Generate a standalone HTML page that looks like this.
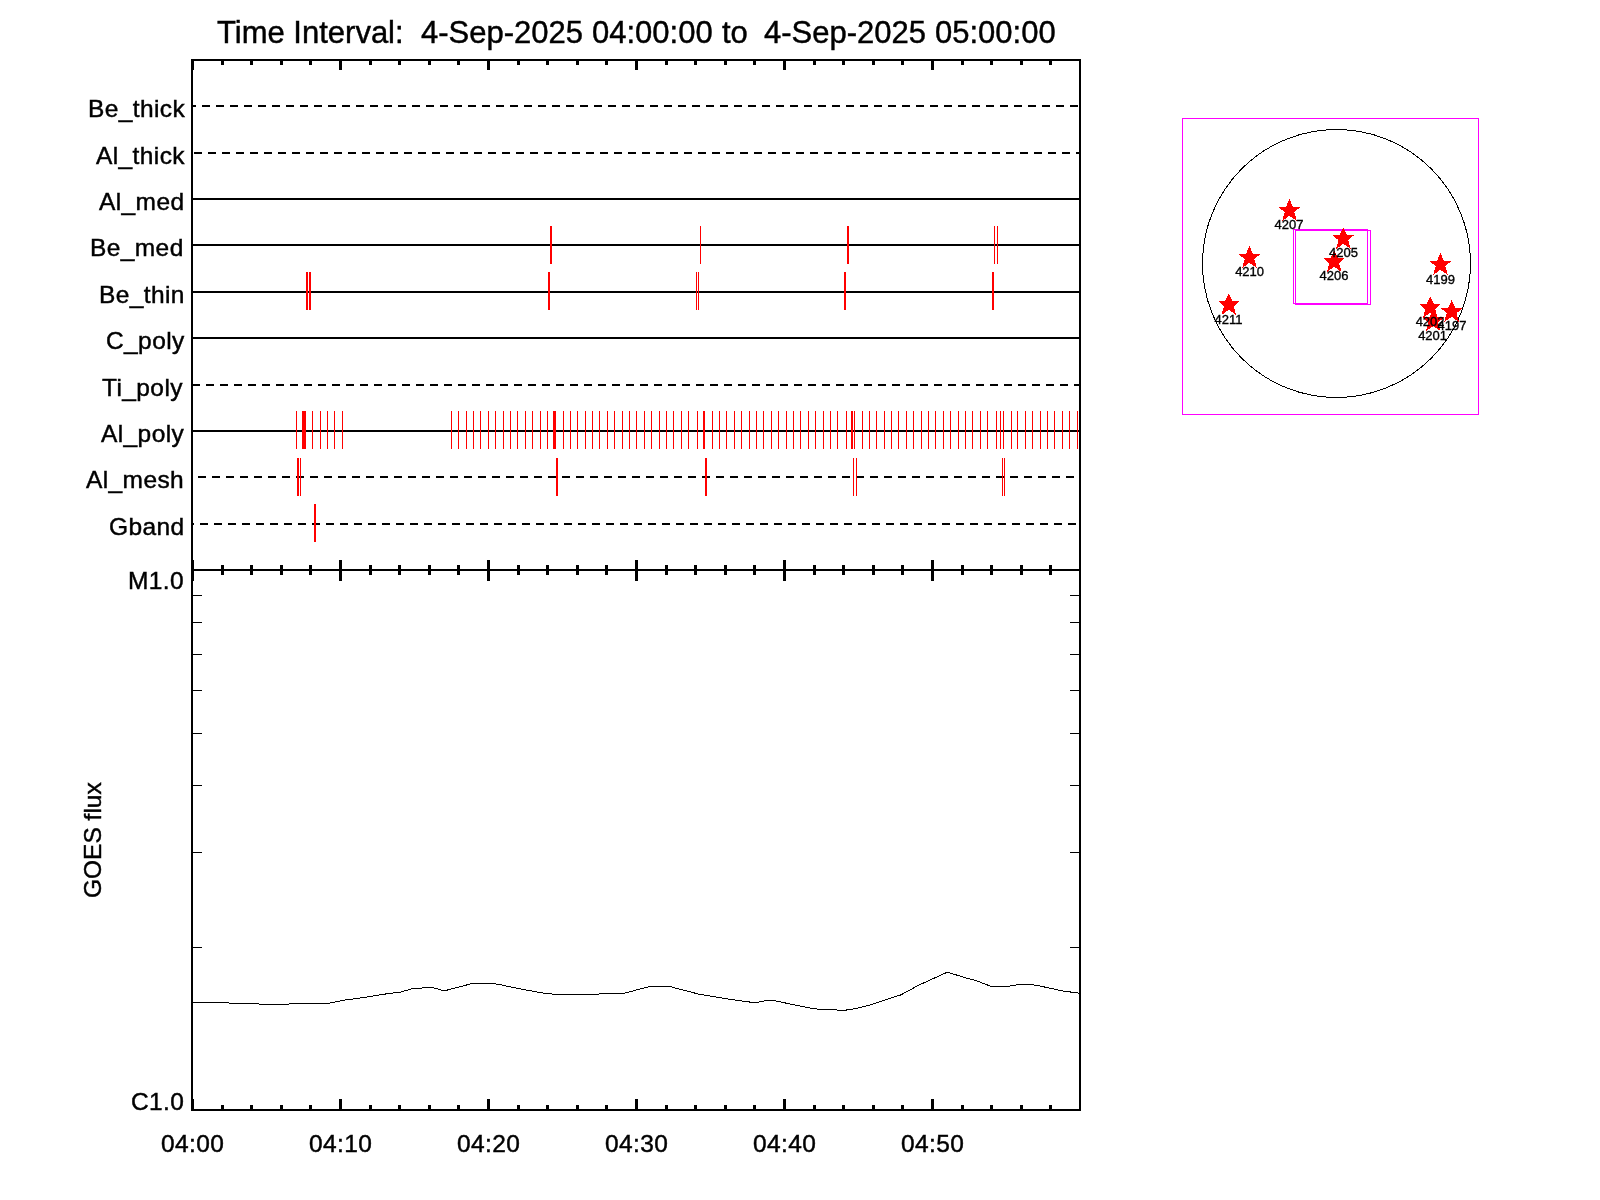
<!DOCTYPE html>
<html><head><meta charset="utf-8"><title>plot</title>
<style>
html,body{margin:0;padding:0;background:#fff;width:1600px;height:1200px;overflow:hidden}
svg{display:block}
text{font-family:"Liberation Sans",sans-serif;fill:#000;stroke:#000;stroke-width:0.45px}
.tx{will-change:transform}
</style></head><body>
<svg width="1600" height="1200" viewBox="0 0 1600 1200">
<rect x="0" y="0" width="1600" height="1200" fill="#fff"/>
<g shape-rendering="crispEdges">
<rect x="191" y="59" width="890" height="2" fill="#000"/>
<rect x="191" y="569" width="890" height="2" fill="#000"/>
<rect x="191" y="1109" width="890" height="2" fill="#000"/>
<rect x="191" y="59" width="2" height="1052" fill="#000"/>
<rect x="1079" y="59" width="2" height="1052" fill="#000"/>
<rect x="191" y="61" width="3" height="9" fill="#000"/>
<rect x="191" y="560" width="3" height="21" fill="#000"/>
<rect x="191" y="1099" width="3" height="10" fill="#000"/>
<rect x="221" y="61" width="3" height="4" fill="#000"/>
<rect x="221" y="565" width="3" height="10" fill="#000"/>
<rect x="221" y="1105" width="3" height="4" fill="#000"/>
<rect x="250" y="61" width="3" height="4" fill="#000"/>
<rect x="250" y="565" width="3" height="10" fill="#000"/>
<rect x="250" y="1105" width="3" height="4" fill="#000"/>
<rect x="280" y="61" width="3" height="4" fill="#000"/>
<rect x="280" y="565" width="3" height="10" fill="#000"/>
<rect x="280" y="1105" width="3" height="4" fill="#000"/>
<rect x="309" y="61" width="3" height="4" fill="#000"/>
<rect x="309" y="565" width="3" height="10" fill="#000"/>
<rect x="309" y="1105" width="3" height="4" fill="#000"/>
<rect x="339" y="61" width="3" height="9" fill="#000"/>
<rect x="339" y="560" width="3" height="21" fill="#000"/>
<rect x="339" y="1099" width="3" height="10" fill="#000"/>
<rect x="369" y="61" width="3" height="4" fill="#000"/>
<rect x="369" y="565" width="3" height="10" fill="#000"/>
<rect x="369" y="1105" width="3" height="4" fill="#000"/>
<rect x="398" y="61" width="3" height="4" fill="#000"/>
<rect x="398" y="565" width="3" height="10" fill="#000"/>
<rect x="398" y="1105" width="3" height="4" fill="#000"/>
<rect x="428" y="61" width="3" height="4" fill="#000"/>
<rect x="428" y="565" width="3" height="10" fill="#000"/>
<rect x="428" y="1105" width="3" height="4" fill="#000"/>
<rect x="457" y="61" width="3" height="4" fill="#000"/>
<rect x="457" y="565" width="3" height="10" fill="#000"/>
<rect x="457" y="1105" width="3" height="4" fill="#000"/>
<rect x="487" y="61" width="3" height="9" fill="#000"/>
<rect x="487" y="560" width="3" height="21" fill="#000"/>
<rect x="487" y="1099" width="3" height="10" fill="#000"/>
<rect x="517" y="61" width="3" height="4" fill="#000"/>
<rect x="517" y="565" width="3" height="10" fill="#000"/>
<rect x="517" y="1105" width="3" height="4" fill="#000"/>
<rect x="546" y="61" width="3" height="4" fill="#000"/>
<rect x="546" y="565" width="3" height="10" fill="#000"/>
<rect x="546" y="1105" width="3" height="4" fill="#000"/>
<rect x="576" y="61" width="3" height="4" fill="#000"/>
<rect x="576" y="565" width="3" height="10" fill="#000"/>
<rect x="576" y="1105" width="3" height="4" fill="#000"/>
<rect x="605" y="61" width="3" height="4" fill="#000"/>
<rect x="605" y="565" width="3" height="10" fill="#000"/>
<rect x="605" y="1105" width="3" height="4" fill="#000"/>
<rect x="635" y="61" width="3" height="9" fill="#000"/>
<rect x="635" y="560" width="3" height="21" fill="#000"/>
<rect x="635" y="1099" width="3" height="10" fill="#000"/>
<rect x="665" y="61" width="3" height="4" fill="#000"/>
<rect x="665" y="565" width="3" height="10" fill="#000"/>
<rect x="665" y="1105" width="3" height="4" fill="#000"/>
<rect x="694" y="61" width="3" height="4" fill="#000"/>
<rect x="694" y="565" width="3" height="10" fill="#000"/>
<rect x="694" y="1105" width="3" height="4" fill="#000"/>
<rect x="724" y="61" width="3" height="4" fill="#000"/>
<rect x="724" y="565" width="3" height="10" fill="#000"/>
<rect x="724" y="1105" width="3" height="4" fill="#000"/>
<rect x="753" y="61" width="3" height="4" fill="#000"/>
<rect x="753" y="565" width="3" height="10" fill="#000"/>
<rect x="753" y="1105" width="3" height="4" fill="#000"/>
<rect x="783" y="61" width="3" height="9" fill="#000"/>
<rect x="783" y="560" width="3" height="21" fill="#000"/>
<rect x="783" y="1099" width="3" height="10" fill="#000"/>
<rect x="813" y="61" width="3" height="4" fill="#000"/>
<rect x="813" y="565" width="3" height="10" fill="#000"/>
<rect x="813" y="1105" width="3" height="4" fill="#000"/>
<rect x="842" y="61" width="3" height="4" fill="#000"/>
<rect x="842" y="565" width="3" height="10" fill="#000"/>
<rect x="842" y="1105" width="3" height="4" fill="#000"/>
<rect x="872" y="61" width="3" height="4" fill="#000"/>
<rect x="872" y="565" width="3" height="10" fill="#000"/>
<rect x="872" y="1105" width="3" height="4" fill="#000"/>
<rect x="901" y="61" width="3" height="4" fill="#000"/>
<rect x="901" y="565" width="3" height="10" fill="#000"/>
<rect x="901" y="1105" width="3" height="4" fill="#000"/>
<rect x="931" y="61" width="3" height="9" fill="#000"/>
<rect x="931" y="560" width="3" height="21" fill="#000"/>
<rect x="931" y="1099" width="3" height="10" fill="#000"/>
<rect x="961" y="61" width="3" height="4" fill="#000"/>
<rect x="961" y="565" width="3" height="10" fill="#000"/>
<rect x="961" y="1105" width="3" height="4" fill="#000"/>
<rect x="990" y="61" width="3" height="4" fill="#000"/>
<rect x="990" y="565" width="3" height="10" fill="#000"/>
<rect x="990" y="1105" width="3" height="4" fill="#000"/>
<rect x="1020" y="61" width="3" height="4" fill="#000"/>
<rect x="1020" y="565" width="3" height="10" fill="#000"/>
<rect x="1020" y="1105" width="3" height="4" fill="#000"/>
<rect x="1049" y="61" width="3" height="4" fill="#000"/>
<rect x="1049" y="565" width="3" height="10" fill="#000"/>
<rect x="1049" y="1105" width="3" height="4" fill="#000"/>
<rect x="193" y="105" width="3" height="2" fill="#000"/>
<rect x="202" y="105" width="8" height="2" fill="#000"/>
<rect x="216" y="105" width="8" height="2" fill="#000"/>
<rect x="230" y="105" width="8" height="2" fill="#000"/>
<rect x="244" y="105" width="8" height="2" fill="#000"/>
<rect x="258" y="105" width="8" height="2" fill="#000"/>
<rect x="272" y="105" width="8" height="2" fill="#000"/>
<rect x="286" y="105" width="8" height="2" fill="#000"/>
<rect x="300" y="105" width="8" height="2" fill="#000"/>
<rect x="314" y="105" width="8" height="2" fill="#000"/>
<rect x="328" y="105" width="8" height="2" fill="#000"/>
<rect x="342" y="105" width="8" height="2" fill="#000"/>
<rect x="356" y="105" width="8" height="2" fill="#000"/>
<rect x="370" y="105" width="8" height="2" fill="#000"/>
<rect x="384" y="105" width="8" height="2" fill="#000"/>
<rect x="398" y="105" width="8" height="2" fill="#000"/>
<rect x="412" y="105" width="8" height="2" fill="#000"/>
<rect x="426" y="105" width="8" height="2" fill="#000"/>
<rect x="440" y="105" width="8" height="2" fill="#000"/>
<rect x="454" y="105" width="8" height="2" fill="#000"/>
<rect x="468" y="105" width="8" height="2" fill="#000"/>
<rect x="482" y="105" width="8" height="2" fill="#000"/>
<rect x="496" y="105" width="8" height="2" fill="#000"/>
<rect x="510" y="105" width="8" height="2" fill="#000"/>
<rect x="524" y="105" width="8" height="2" fill="#000"/>
<rect x="538" y="105" width="8" height="2" fill="#000"/>
<rect x="552" y="105" width="8" height="2" fill="#000"/>
<rect x="566" y="105" width="8" height="2" fill="#000"/>
<rect x="580" y="105" width="8" height="2" fill="#000"/>
<rect x="594" y="105" width="8" height="2" fill="#000"/>
<rect x="608" y="105" width="8" height="2" fill="#000"/>
<rect x="622" y="105" width="8" height="2" fill="#000"/>
<rect x="636" y="105" width="8" height="2" fill="#000"/>
<rect x="650" y="105" width="8" height="2" fill="#000"/>
<rect x="664" y="105" width="8" height="2" fill="#000"/>
<rect x="678" y="105" width="8" height="2" fill="#000"/>
<rect x="692" y="105" width="8" height="2" fill="#000"/>
<rect x="706" y="105" width="8" height="2" fill="#000"/>
<rect x="720" y="105" width="8" height="2" fill="#000"/>
<rect x="734" y="105" width="8" height="2" fill="#000"/>
<rect x="748" y="105" width="8" height="2" fill="#000"/>
<rect x="762" y="105" width="8" height="2" fill="#000"/>
<rect x="776" y="105" width="8" height="2" fill="#000"/>
<rect x="790" y="105" width="8" height="2" fill="#000"/>
<rect x="804" y="105" width="8" height="2" fill="#000"/>
<rect x="818" y="105" width="8" height="2" fill="#000"/>
<rect x="832" y="105" width="8" height="2" fill="#000"/>
<rect x="846" y="105" width="8" height="2" fill="#000"/>
<rect x="860" y="105" width="8" height="2" fill="#000"/>
<rect x="874" y="105" width="8" height="2" fill="#000"/>
<rect x="888" y="105" width="8" height="2" fill="#000"/>
<rect x="902" y="105" width="8" height="2" fill="#000"/>
<rect x="916" y="105" width="8" height="2" fill="#000"/>
<rect x="930" y="105" width="8" height="2" fill="#000"/>
<rect x="944" y="105" width="8" height="2" fill="#000"/>
<rect x="958" y="105" width="8" height="2" fill="#000"/>
<rect x="972" y="105" width="8" height="2" fill="#000"/>
<rect x="986" y="105" width="8" height="2" fill="#000"/>
<rect x="1000" y="105" width="8" height="2" fill="#000"/>
<rect x="1014" y="105" width="8" height="2" fill="#000"/>
<rect x="1028" y="105" width="8" height="2" fill="#000"/>
<rect x="1042" y="105" width="8" height="2" fill="#000"/>
<rect x="1056" y="105" width="8" height="2" fill="#000"/>
<rect x="1070" y="105" width="8" height="2" fill="#000"/>
<rect x="194" y="152" width="8" height="2" fill="#000"/>
<rect x="208" y="152" width="8" height="2" fill="#000"/>
<rect x="222" y="152" width="8" height="2" fill="#000"/>
<rect x="236" y="152" width="8" height="2" fill="#000"/>
<rect x="250" y="152" width="8" height="2" fill="#000"/>
<rect x="264" y="152" width="8" height="2" fill="#000"/>
<rect x="278" y="152" width="8" height="2" fill="#000"/>
<rect x="292" y="152" width="8" height="2" fill="#000"/>
<rect x="306" y="152" width="8" height="2" fill="#000"/>
<rect x="320" y="152" width="8" height="2" fill="#000"/>
<rect x="334" y="152" width="8" height="2" fill="#000"/>
<rect x="348" y="152" width="8" height="2" fill="#000"/>
<rect x="362" y="152" width="8" height="2" fill="#000"/>
<rect x="376" y="152" width="8" height="2" fill="#000"/>
<rect x="390" y="152" width="8" height="2" fill="#000"/>
<rect x="404" y="152" width="8" height="2" fill="#000"/>
<rect x="418" y="152" width="8" height="2" fill="#000"/>
<rect x="432" y="152" width="8" height="2" fill="#000"/>
<rect x="446" y="152" width="8" height="2" fill="#000"/>
<rect x="460" y="152" width="8" height="2" fill="#000"/>
<rect x="474" y="152" width="8" height="2" fill="#000"/>
<rect x="488" y="152" width="8" height="2" fill="#000"/>
<rect x="502" y="152" width="8" height="2" fill="#000"/>
<rect x="516" y="152" width="8" height="2" fill="#000"/>
<rect x="530" y="152" width="8" height="2" fill="#000"/>
<rect x="544" y="152" width="8" height="2" fill="#000"/>
<rect x="558" y="152" width="8" height="2" fill="#000"/>
<rect x="572" y="152" width="8" height="2" fill="#000"/>
<rect x="586" y="152" width="8" height="2" fill="#000"/>
<rect x="600" y="152" width="8" height="2" fill="#000"/>
<rect x="614" y="152" width="8" height="2" fill="#000"/>
<rect x="628" y="152" width="8" height="2" fill="#000"/>
<rect x="642" y="152" width="8" height="2" fill="#000"/>
<rect x="656" y="152" width="8" height="2" fill="#000"/>
<rect x="670" y="152" width="8" height="2" fill="#000"/>
<rect x="684" y="152" width="8" height="2" fill="#000"/>
<rect x="698" y="152" width="8" height="2" fill="#000"/>
<rect x="712" y="152" width="8" height="2" fill="#000"/>
<rect x="726" y="152" width="8" height="2" fill="#000"/>
<rect x="740" y="152" width="8" height="2" fill="#000"/>
<rect x="754" y="152" width="8" height="2" fill="#000"/>
<rect x="768" y="152" width="8" height="2" fill="#000"/>
<rect x="782" y="152" width="8" height="2" fill="#000"/>
<rect x="796" y="152" width="8" height="2" fill="#000"/>
<rect x="810" y="152" width="8" height="2" fill="#000"/>
<rect x="824" y="152" width="8" height="2" fill="#000"/>
<rect x="838" y="152" width="8" height="2" fill="#000"/>
<rect x="852" y="152" width="8" height="2" fill="#000"/>
<rect x="866" y="152" width="8" height="2" fill="#000"/>
<rect x="880" y="152" width="8" height="2" fill="#000"/>
<rect x="894" y="152" width="8" height="2" fill="#000"/>
<rect x="908" y="152" width="8" height="2" fill="#000"/>
<rect x="922" y="152" width="8" height="2" fill="#000"/>
<rect x="936" y="152" width="8" height="2" fill="#000"/>
<rect x="950" y="152" width="8" height="2" fill="#000"/>
<rect x="964" y="152" width="8" height="2" fill="#000"/>
<rect x="978" y="152" width="8" height="2" fill="#000"/>
<rect x="992" y="152" width="8" height="2" fill="#000"/>
<rect x="1006" y="152" width="8" height="2" fill="#000"/>
<rect x="1020" y="152" width="8" height="2" fill="#000"/>
<rect x="1034" y="152" width="8" height="2" fill="#000"/>
<rect x="1048" y="152" width="8" height="2" fill="#000"/>
<rect x="1062" y="152" width="8" height="2" fill="#000"/>
<rect x="1076" y="152" width="3" height="2" fill="#000"/>
<rect x="193" y="198" width="886" height="2" fill="#000"/>
<rect x="193" y="244" width="886" height="2" fill="#000"/>
<rect x="193" y="291" width="886" height="2" fill="#000"/>
<rect x="193" y="337" width="886" height="2" fill="#000"/>
<rect x="193" y="384" width="7" height="2" fill="#000"/>
<rect x="206" y="384" width="8" height="2" fill="#000"/>
<rect x="220" y="384" width="8" height="2" fill="#000"/>
<rect x="234" y="384" width="8" height="2" fill="#000"/>
<rect x="248" y="384" width="8" height="2" fill="#000"/>
<rect x="262" y="384" width="8" height="2" fill="#000"/>
<rect x="276" y="384" width="8" height="2" fill="#000"/>
<rect x="290" y="384" width="8" height="2" fill="#000"/>
<rect x="304" y="384" width="8" height="2" fill="#000"/>
<rect x="318" y="384" width="8" height="2" fill="#000"/>
<rect x="332" y="384" width="8" height="2" fill="#000"/>
<rect x="346" y="384" width="8" height="2" fill="#000"/>
<rect x="360" y="384" width="8" height="2" fill="#000"/>
<rect x="374" y="384" width="8" height="2" fill="#000"/>
<rect x="388" y="384" width="8" height="2" fill="#000"/>
<rect x="402" y="384" width="8" height="2" fill="#000"/>
<rect x="416" y="384" width="8" height="2" fill="#000"/>
<rect x="430" y="384" width="8" height="2" fill="#000"/>
<rect x="444" y="384" width="8" height="2" fill="#000"/>
<rect x="458" y="384" width="8" height="2" fill="#000"/>
<rect x="472" y="384" width="8" height="2" fill="#000"/>
<rect x="486" y="384" width="8" height="2" fill="#000"/>
<rect x="500" y="384" width="8" height="2" fill="#000"/>
<rect x="514" y="384" width="8" height="2" fill="#000"/>
<rect x="528" y="384" width="8" height="2" fill="#000"/>
<rect x="542" y="384" width="8" height="2" fill="#000"/>
<rect x="556" y="384" width="8" height="2" fill="#000"/>
<rect x="570" y="384" width="8" height="2" fill="#000"/>
<rect x="584" y="384" width="8" height="2" fill="#000"/>
<rect x="598" y="384" width="8" height="2" fill="#000"/>
<rect x="612" y="384" width="8" height="2" fill="#000"/>
<rect x="626" y="384" width="8" height="2" fill="#000"/>
<rect x="640" y="384" width="8" height="2" fill="#000"/>
<rect x="654" y="384" width="8" height="2" fill="#000"/>
<rect x="668" y="384" width="8" height="2" fill="#000"/>
<rect x="682" y="384" width="8" height="2" fill="#000"/>
<rect x="696" y="384" width="8" height="2" fill="#000"/>
<rect x="710" y="384" width="8" height="2" fill="#000"/>
<rect x="724" y="384" width="8" height="2" fill="#000"/>
<rect x="738" y="384" width="8" height="2" fill="#000"/>
<rect x="752" y="384" width="8" height="2" fill="#000"/>
<rect x="766" y="384" width="8" height="2" fill="#000"/>
<rect x="780" y="384" width="8" height="2" fill="#000"/>
<rect x="794" y="384" width="8" height="2" fill="#000"/>
<rect x="808" y="384" width="8" height="2" fill="#000"/>
<rect x="822" y="384" width="8" height="2" fill="#000"/>
<rect x="836" y="384" width="8" height="2" fill="#000"/>
<rect x="850" y="384" width="8" height="2" fill="#000"/>
<rect x="864" y="384" width="8" height="2" fill="#000"/>
<rect x="878" y="384" width="8" height="2" fill="#000"/>
<rect x="892" y="384" width="8" height="2" fill="#000"/>
<rect x="906" y="384" width="8" height="2" fill="#000"/>
<rect x="920" y="384" width="8" height="2" fill="#000"/>
<rect x="934" y="384" width="8" height="2" fill="#000"/>
<rect x="948" y="384" width="8" height="2" fill="#000"/>
<rect x="962" y="384" width="8" height="2" fill="#000"/>
<rect x="976" y="384" width="8" height="2" fill="#000"/>
<rect x="990" y="384" width="8" height="2" fill="#000"/>
<rect x="1004" y="384" width="8" height="2" fill="#000"/>
<rect x="1018" y="384" width="8" height="2" fill="#000"/>
<rect x="1032" y="384" width="8" height="2" fill="#000"/>
<rect x="1046" y="384" width="8" height="2" fill="#000"/>
<rect x="1060" y="384" width="8" height="2" fill="#000"/>
<rect x="1074" y="384" width="5" height="2" fill="#000"/>
<rect x="193" y="430" width="886" height="2" fill="#000"/>
<rect x="198" y="476" width="8" height="2" fill="#000"/>
<rect x="212" y="476" width="8" height="2" fill="#000"/>
<rect x="226" y="476" width="8" height="2" fill="#000"/>
<rect x="240" y="476" width="8" height="2" fill="#000"/>
<rect x="254" y="476" width="8" height="2" fill="#000"/>
<rect x="268" y="476" width="8" height="2" fill="#000"/>
<rect x="282" y="476" width="8" height="2" fill="#000"/>
<rect x="296" y="476" width="8" height="2" fill="#000"/>
<rect x="310" y="476" width="8" height="2" fill="#000"/>
<rect x="324" y="476" width="8" height="2" fill="#000"/>
<rect x="338" y="476" width="8" height="2" fill="#000"/>
<rect x="352" y="476" width="8" height="2" fill="#000"/>
<rect x="366" y="476" width="8" height="2" fill="#000"/>
<rect x="380" y="476" width="8" height="2" fill="#000"/>
<rect x="394" y="476" width="8" height="2" fill="#000"/>
<rect x="408" y="476" width="8" height="2" fill="#000"/>
<rect x="422" y="476" width="8" height="2" fill="#000"/>
<rect x="436" y="476" width="8" height="2" fill="#000"/>
<rect x="450" y="476" width="8" height="2" fill="#000"/>
<rect x="464" y="476" width="8" height="2" fill="#000"/>
<rect x="478" y="476" width="8" height="2" fill="#000"/>
<rect x="492" y="476" width="8" height="2" fill="#000"/>
<rect x="506" y="476" width="8" height="2" fill="#000"/>
<rect x="520" y="476" width="8" height="2" fill="#000"/>
<rect x="534" y="476" width="8" height="2" fill="#000"/>
<rect x="548" y="476" width="8" height="2" fill="#000"/>
<rect x="562" y="476" width="8" height="2" fill="#000"/>
<rect x="576" y="476" width="8" height="2" fill="#000"/>
<rect x="590" y="476" width="8" height="2" fill="#000"/>
<rect x="604" y="476" width="8" height="2" fill="#000"/>
<rect x="618" y="476" width="8" height="2" fill="#000"/>
<rect x="632" y="476" width="8" height="2" fill="#000"/>
<rect x="646" y="476" width="8" height="2" fill="#000"/>
<rect x="660" y="476" width="8" height="2" fill="#000"/>
<rect x="674" y="476" width="8" height="2" fill="#000"/>
<rect x="688" y="476" width="8" height="2" fill="#000"/>
<rect x="702" y="476" width="8" height="2" fill="#000"/>
<rect x="716" y="476" width="8" height="2" fill="#000"/>
<rect x="730" y="476" width="8" height="2" fill="#000"/>
<rect x="744" y="476" width="8" height="2" fill="#000"/>
<rect x="758" y="476" width="8" height="2" fill="#000"/>
<rect x="772" y="476" width="8" height="2" fill="#000"/>
<rect x="786" y="476" width="8" height="2" fill="#000"/>
<rect x="800" y="476" width="8" height="2" fill="#000"/>
<rect x="814" y="476" width="8" height="2" fill="#000"/>
<rect x="828" y="476" width="8" height="2" fill="#000"/>
<rect x="842" y="476" width="8" height="2" fill="#000"/>
<rect x="856" y="476" width="8" height="2" fill="#000"/>
<rect x="870" y="476" width="8" height="2" fill="#000"/>
<rect x="884" y="476" width="8" height="2" fill="#000"/>
<rect x="898" y="476" width="8" height="2" fill="#000"/>
<rect x="912" y="476" width="8" height="2" fill="#000"/>
<rect x="926" y="476" width="8" height="2" fill="#000"/>
<rect x="940" y="476" width="8" height="2" fill="#000"/>
<rect x="954" y="476" width="8" height="2" fill="#000"/>
<rect x="968" y="476" width="8" height="2" fill="#000"/>
<rect x="982" y="476" width="8" height="2" fill="#000"/>
<rect x="996" y="476" width="8" height="2" fill="#000"/>
<rect x="1010" y="476" width="8" height="2" fill="#000"/>
<rect x="1024" y="476" width="8" height="2" fill="#000"/>
<rect x="1038" y="476" width="8" height="2" fill="#000"/>
<rect x="1052" y="476" width="8" height="2" fill="#000"/>
<rect x="1066" y="476" width="8" height="2" fill="#000"/>
<rect x="193" y="523" width="1" height="2" fill="#000"/>
<rect x="200" y="523" width="8" height="2" fill="#000"/>
<rect x="214" y="523" width="8" height="2" fill="#000"/>
<rect x="228" y="523" width="8" height="2" fill="#000"/>
<rect x="242" y="523" width="8" height="2" fill="#000"/>
<rect x="256" y="523" width="8" height="2" fill="#000"/>
<rect x="270" y="523" width="8" height="2" fill="#000"/>
<rect x="284" y="523" width="8" height="2" fill="#000"/>
<rect x="298" y="523" width="8" height="2" fill="#000"/>
<rect x="312" y="523" width="8" height="2" fill="#000"/>
<rect x="326" y="523" width="8" height="2" fill="#000"/>
<rect x="340" y="523" width="8" height="2" fill="#000"/>
<rect x="354" y="523" width="8" height="2" fill="#000"/>
<rect x="368" y="523" width="8" height="2" fill="#000"/>
<rect x="382" y="523" width="8" height="2" fill="#000"/>
<rect x="396" y="523" width="8" height="2" fill="#000"/>
<rect x="410" y="523" width="8" height="2" fill="#000"/>
<rect x="424" y="523" width="8" height="2" fill="#000"/>
<rect x="438" y="523" width="8" height="2" fill="#000"/>
<rect x="452" y="523" width="8" height="2" fill="#000"/>
<rect x="466" y="523" width="8" height="2" fill="#000"/>
<rect x="480" y="523" width="8" height="2" fill="#000"/>
<rect x="494" y="523" width="8" height="2" fill="#000"/>
<rect x="508" y="523" width="8" height="2" fill="#000"/>
<rect x="522" y="523" width="8" height="2" fill="#000"/>
<rect x="536" y="523" width="8" height="2" fill="#000"/>
<rect x="550" y="523" width="8" height="2" fill="#000"/>
<rect x="564" y="523" width="8" height="2" fill="#000"/>
<rect x="578" y="523" width="8" height="2" fill="#000"/>
<rect x="592" y="523" width="8" height="2" fill="#000"/>
<rect x="606" y="523" width="8" height="2" fill="#000"/>
<rect x="620" y="523" width="8" height="2" fill="#000"/>
<rect x="634" y="523" width="8" height="2" fill="#000"/>
<rect x="648" y="523" width="8" height="2" fill="#000"/>
<rect x="662" y="523" width="8" height="2" fill="#000"/>
<rect x="676" y="523" width="8" height="2" fill="#000"/>
<rect x="690" y="523" width="8" height="2" fill="#000"/>
<rect x="704" y="523" width="8" height="2" fill="#000"/>
<rect x="718" y="523" width="8" height="2" fill="#000"/>
<rect x="732" y="523" width="8" height="2" fill="#000"/>
<rect x="746" y="523" width="8" height="2" fill="#000"/>
<rect x="760" y="523" width="8" height="2" fill="#000"/>
<rect x="774" y="523" width="8" height="2" fill="#000"/>
<rect x="788" y="523" width="8" height="2" fill="#000"/>
<rect x="802" y="523" width="8" height="2" fill="#000"/>
<rect x="816" y="523" width="8" height="2" fill="#000"/>
<rect x="830" y="523" width="8" height="2" fill="#000"/>
<rect x="844" y="523" width="8" height="2" fill="#000"/>
<rect x="858" y="523" width="8" height="2" fill="#000"/>
<rect x="872" y="523" width="8" height="2" fill="#000"/>
<rect x="886" y="523" width="8" height="2" fill="#000"/>
<rect x="900" y="523" width="8" height="2" fill="#000"/>
<rect x="914" y="523" width="8" height="2" fill="#000"/>
<rect x="928" y="523" width="8" height="2" fill="#000"/>
<rect x="942" y="523" width="8" height="2" fill="#000"/>
<rect x="956" y="523" width="8" height="2" fill="#000"/>
<rect x="970" y="523" width="8" height="2" fill="#000"/>
<rect x="984" y="523" width="8" height="2" fill="#000"/>
<rect x="998" y="523" width="8" height="2" fill="#000"/>
<rect x="1012" y="523" width="8" height="2" fill="#000"/>
<rect x="1026" y="523" width="8" height="2" fill="#000"/>
<rect x="1040" y="523" width="8" height="2" fill="#000"/>
<rect x="1054" y="523" width="8" height="2" fill="#000"/>
<rect x="1068" y="523" width="8" height="2" fill="#000"/>
<rect x="550" y="226" width="2" height="38" fill="#ff0000"/>
<rect x="700" y="226" width="1" height="38" fill="#ff0000"/>
<rect x="847" y="226" width="2" height="38" fill="#ff0000"/>
<rect x="994" y="226" width="1" height="38" fill="#ff0000"/>
<rect x="997" y="226" width="1" height="38" fill="#ff0000"/>
<rect x="306" y="272" width="2" height="38" fill="#ff0000"/>
<rect x="309" y="272" width="2" height="38" fill="#ff0000"/>
<rect x="548" y="272" width="2" height="38" fill="#ff0000"/>
<rect x="696" y="272" width="1" height="38" fill="#ff0000"/>
<rect x="698" y="272" width="1" height="38" fill="#ff0000"/>
<rect x="844" y="272" width="2" height="38" fill="#ff0000"/>
<rect x="992" y="272" width="2" height="38" fill="#ff0000"/>
<rect x="297" y="458" width="2" height="38" fill="#ff0000"/>
<rect x="300" y="458" width="1" height="38" fill="#ff0000"/>
<rect x="556" y="458" width="2" height="38" fill="#ff0000"/>
<rect x="705" y="458" width="2" height="38" fill="#ff0000"/>
<rect x="853" y="458" width="1" height="38" fill="#ff0000"/>
<rect x="856" y="458" width="1" height="38" fill="#ff0000"/>
<rect x="1002" y="458" width="1" height="38" fill="#ff0000"/>
<rect x="1004" y="458" width="1" height="38" fill="#ff0000"/>
<rect x="314" y="504" width="2" height="38" fill="#ff0000"/>
<rect x="296" y="411" width="1" height="38" fill="#ff0000"/>
<rect x="302" y="411" width="4" height="38" fill="#ff0000"/>
<rect x="312" y="411" width="1" height="38" fill="#ff0000"/>
<rect x="320" y="411" width="1" height="38" fill="#ff0000"/>
<rect x="327" y="411" width="1" height="38" fill="#ff0000"/>
<rect x="334" y="411" width="1" height="38" fill="#ff0000"/>
<rect x="342" y="411" width="1" height="38" fill="#ff0000"/>
<rect x="451" y="411" width="1" height="38" fill="#ff0000"/>
<rect x="458" y="411" width="1" height="38" fill="#ff0000"/>
<rect x="466" y="411" width="1" height="38" fill="#ff0000"/>
<rect x="473" y="411" width="1" height="38" fill="#ff0000"/>
<rect x="480" y="411" width="1" height="38" fill="#ff0000"/>
<rect x="488" y="411" width="1" height="38" fill="#ff0000"/>
<rect x="495" y="411" width="1" height="38" fill="#ff0000"/>
<rect x="503" y="411" width="1" height="38" fill="#ff0000"/>
<rect x="510" y="411" width="1" height="38" fill="#ff0000"/>
<rect x="517" y="411" width="1" height="38" fill="#ff0000"/>
<rect x="525" y="411" width="1" height="38" fill="#ff0000"/>
<rect x="532" y="411" width="1" height="38" fill="#ff0000"/>
<rect x="540" y="411" width="1" height="38" fill="#ff0000"/>
<rect x="547" y="411" width="1" height="38" fill="#ff0000"/>
<rect x="553" y="411" width="3" height="38" fill="#ff0000"/>
<rect x="563" y="411" width="1" height="38" fill="#ff0000"/>
<rect x="570" y="411" width="1" height="38" fill="#ff0000"/>
<rect x="577" y="411" width="1" height="38" fill="#ff0000"/>
<rect x="585" y="411" width="1" height="38" fill="#ff0000"/>
<rect x="592" y="411" width="1" height="38" fill="#ff0000"/>
<rect x="599" y="411" width="1" height="38" fill="#ff0000"/>
<rect x="607" y="411" width="1" height="38" fill="#ff0000"/>
<rect x="614" y="411" width="1" height="38" fill="#ff0000"/>
<rect x="622" y="411" width="1" height="38" fill="#ff0000"/>
<rect x="629" y="411" width="1" height="38" fill="#ff0000"/>
<rect x="636" y="411" width="1" height="38" fill="#ff0000"/>
<rect x="644" y="411" width="1" height="38" fill="#ff0000"/>
<rect x="651" y="411" width="1" height="38" fill="#ff0000"/>
<rect x="659" y="411" width="1" height="38" fill="#ff0000"/>
<rect x="666" y="411" width="1" height="38" fill="#ff0000"/>
<rect x="673" y="411" width="1" height="38" fill="#ff0000"/>
<rect x="681" y="411" width="1" height="38" fill="#ff0000"/>
<rect x="688" y="411" width="1" height="38" fill="#ff0000"/>
<rect x="697" y="411" width="1" height="38" fill="#ff0000"/>
<rect x="703" y="411" width="2" height="38" fill="#ff0000"/>
<rect x="712" y="411" width="1" height="38" fill="#ff0000"/>
<rect x="719" y="411" width="1" height="38" fill="#ff0000"/>
<rect x="726" y="411" width="1" height="38" fill="#ff0000"/>
<rect x="734" y="411" width="1" height="38" fill="#ff0000"/>
<rect x="741" y="411" width="1" height="38" fill="#ff0000"/>
<rect x="749" y="411" width="1" height="38" fill="#ff0000"/>
<rect x="756" y="411" width="1" height="38" fill="#ff0000"/>
<rect x="763" y="411" width="1" height="38" fill="#ff0000"/>
<rect x="771" y="411" width="1" height="38" fill="#ff0000"/>
<rect x="778" y="411" width="1" height="38" fill="#ff0000"/>
<rect x="786" y="411" width="1" height="38" fill="#ff0000"/>
<rect x="793" y="411" width="1" height="38" fill="#ff0000"/>
<rect x="800" y="411" width="1" height="38" fill="#ff0000"/>
<rect x="808" y="411" width="1" height="38" fill="#ff0000"/>
<rect x="815" y="411" width="1" height="38" fill="#ff0000"/>
<rect x="823" y="411" width="1" height="38" fill="#ff0000"/>
<rect x="830" y="411" width="1" height="38" fill="#ff0000"/>
<rect x="837" y="411" width="1" height="38" fill="#ff0000"/>
<rect x="846" y="411" width="1" height="38" fill="#ff0000"/>
<rect x="851" y="411" width="2" height="38" fill="#ff0000"/>
<rect x="854" y="411" width="1" height="38" fill="#ff0000"/>
<rect x="862" y="411" width="1" height="38" fill="#ff0000"/>
<rect x="869" y="411" width="1" height="38" fill="#ff0000"/>
<rect x="876" y="411" width="1" height="38" fill="#ff0000"/>
<rect x="884" y="411" width="1" height="38" fill="#ff0000"/>
<rect x="891" y="411" width="1" height="38" fill="#ff0000"/>
<rect x="898" y="411" width="1" height="38" fill="#ff0000"/>
<rect x="906" y="411" width="1" height="38" fill="#ff0000"/>
<rect x="913" y="411" width="1" height="38" fill="#ff0000"/>
<rect x="921" y="411" width="1" height="38" fill="#ff0000"/>
<rect x="928" y="411" width="1" height="38" fill="#ff0000"/>
<rect x="935" y="411" width="1" height="38" fill="#ff0000"/>
<rect x="943" y="411" width="1" height="38" fill="#ff0000"/>
<rect x="950" y="411" width="1" height="38" fill="#ff0000"/>
<rect x="958" y="411" width="1" height="38" fill="#ff0000"/>
<rect x="965" y="411" width="1" height="38" fill="#ff0000"/>
<rect x="972" y="411" width="1" height="38" fill="#ff0000"/>
<rect x="980" y="411" width="1" height="38" fill="#ff0000"/>
<rect x="987" y="411" width="1" height="38" fill="#ff0000"/>
<rect x="996" y="411" width="1" height="38" fill="#ff0000"/>
<rect x="1000" y="411" width="1" height="38" fill="#ff0000"/>
<rect x="1003" y="411" width="1" height="38" fill="#ff0000"/>
<rect x="1011" y="411" width="1" height="38" fill="#ff0000"/>
<rect x="1017" y="411" width="1" height="38" fill="#ff0000"/>
<rect x="1025" y="411" width="1" height="38" fill="#ff0000"/>
<rect x="1032" y="411" width="1" height="38" fill="#ff0000"/>
<rect x="1040" y="411" width="1" height="38" fill="#ff0000"/>
<rect x="1047" y="411" width="1" height="38" fill="#ff0000"/>
<rect x="1054" y="411" width="1" height="38" fill="#ff0000"/>
<rect x="1062" y="411" width="1" height="38" fill="#ff0000"/>
<rect x="1069" y="411" width="1" height="38" fill="#ff0000"/>
<rect x="1077" y="411" width="1" height="38" fill="#ff0000"/>
<rect x="193" y="595" width="9" height="1" fill="#000"/>
<rect x="1070" y="595" width="9" height="1" fill="#000"/>
<rect x="193" y="622" width="9" height="1" fill="#000"/>
<rect x="1070" y="622" width="9" height="1" fill="#000"/>
<rect x="193" y="654" width="9" height="1" fill="#000"/>
<rect x="1070" y="654" width="9" height="1" fill="#000"/>
<rect x="193" y="690" width="9" height="1" fill="#000"/>
<rect x="1070" y="690" width="9" height="1" fill="#000"/>
<rect x="193" y="733" width="9" height="1" fill="#000"/>
<rect x="1070" y="733" width="9" height="1" fill="#000"/>
<rect x="193" y="785" width="9" height="1" fill="#000"/>
<rect x="1070" y="785" width="9" height="1" fill="#000"/>
<rect x="193" y="852" width="9" height="1" fill="#000"/>
<rect x="1070" y="852" width="9" height="1" fill="#000"/>
<rect x="193" y="947" width="9" height="1" fill="#000"/>
<rect x="1070" y="947" width="9" height="1" fill="#000"/>
<polyline fill="none" stroke="#000" stroke-width="1" points="193,1002.5 228.5,1002.5 229.5,1003.5 258.5,1003.5 259.5,1004.5 288.5,1004.5 289.5,1003.5 328,1003.5 344,1000.2 367.4,997 388,993.6 400,992.3 413.75,988.3 422,988.3 422.7,987.3 431.6,987.3 442.6,990.4 446,990.4 472.2,983.5 491.5,983.5 499,984.4 517,988.3 545,993.4 555.4,994.3 598.8,994.3 599.4,993.4 623.75,993.4 650.6,986.2 668.5,986.2 699.4,994.3 729.7,999.3 751.7,1002.3 757.9,1002.3 766.8,1000.3 772.3,1000.3 812.2,1008.5 821.8,1009.5 836.6,1010 846.5,1010 854.8,1008.8 869.7,1005 901.1,994.8 917.7,985.7 947.5,972.1 964,977.4 975.6,980.4 990.5,986.2 1002,987 1008.7,986.2 1020.3,984.3 1028.6,984.3 1038.5,985.7 1063.4,991.1 1079,993.1"/>
</g>
<g shape-rendering="crispEdges">
<rect x="1182" y="118" width="297" height="1" fill="#ff00ff"/>
<rect x="1182" y="414" width="297" height="1" fill="#ff00ff"/>
<rect x="1182" y="118" width="1" height="297" fill="#ff00ff"/>
<rect x="1478" y="118" width="1" height="297" fill="#ff00ff"/>
<circle cx="1336.5" cy="263.5" r="134" fill="none" stroke="#000" stroke-width="1"/>
<rect x="1293" y="229" width="75" height="1" fill="#ff00ff"/>
<rect x="1293" y="303" width="75" height="1" fill="#ff00ff"/>
<rect x="1293" y="229" width="1" height="75" fill="#ff00ff"/>
<rect x="1367" y="229" width="1" height="75" fill="#ff00ff"/>
<rect x="1295" y="230" width="76" height="1" fill="#ff00ff"/>
<rect x="1295" y="304" width="76" height="1" fill="#ff00ff"/>
<rect x="1295" y="230" width="1" height="75" fill="#ff00ff"/>
<rect x="1370" y="230" width="1" height="75" fill="#ff00ff"/>
<polygon fill="#ff0000" points="1289.50,199.30 1293.20,207.10 1299.90,207.30 1294.40,212.40 1296.90,221.00 1289.50,215.80 1282.10,221.00 1284.60,212.40 1279.10,207.30 1285.80,207.10"/>
<polygon fill="#ff0000" points="1343.40,227.30 1347.10,235.10 1353.80,235.30 1348.30,240.40 1350.80,249.00 1343.40,243.80 1336.00,249.00 1338.50,240.40 1333.00,235.30 1339.70,235.10"/>
<polygon fill="#ff0000" points="1334.20,250.30 1337.90,258.10 1344.60,258.30 1339.10,263.40 1341.60,272.00 1334.20,266.80 1326.80,272.00 1329.30,263.40 1323.80,258.30 1330.50,258.10"/>
<polygon fill="#ff0000" points="1249.50,246.30 1253.20,254.10 1259.90,254.30 1254.40,259.40 1256.90,268.00 1249.50,262.80 1242.10,268.00 1244.60,259.40 1239.10,254.30 1245.80,254.10"/>
<polygon fill="#ff0000" points="1228.80,293.30 1232.50,301.10 1239.20,301.30 1233.70,306.40 1236.20,315.00 1228.80,309.80 1221.40,315.00 1223.90,306.40 1218.40,301.30 1225.10,301.10"/>
<polygon fill="#ff0000" points="1440.50,253.30 1444.20,261.10 1450.90,261.30 1445.40,266.40 1447.90,275.00 1440.50,269.80 1433.10,275.00 1435.60,266.40 1430.10,261.30 1436.80,261.10"/>
<polygon fill="#ff0000" points="1430.30,296.30 1434.00,304.10 1440.70,304.30 1435.20,309.40 1437.70,318.00 1430.30,312.80 1422.90,318.00 1425.40,309.40 1419.90,304.30 1426.60,304.10"/>
<polygon fill="#ff0000" points="1433.30,309.50 1437.00,317.30 1443.70,317.50 1438.20,322.60 1440.70,331.20 1433.30,326.00 1425.90,331.20 1428.40,322.60 1422.90,317.50 1429.60,317.30"/>
<polygon fill="#ff0000" points="1451.60,300.30 1455.30,308.10 1462.00,308.30 1456.50,313.40 1459.00,322.00 1451.60,316.80 1444.20,322.00 1446.70,313.40 1441.20,308.30 1447.90,308.10"/>
</g>
<g class="tx">
<text x="1289.0" y="229" text-anchor="middle" font-size="13" style="stroke-width:0.35px">4207</text>
<text x="1343.4" y="257" text-anchor="middle" font-size="13" style="stroke-width:0.35px">4205</text>
<text x="1334.0" y="280" text-anchor="middle" font-size="13" style="stroke-width:0.35px">4206</text>
<text x="1249.6" y="276" text-anchor="middle" font-size="13" style="stroke-width:0.35px">4210</text>
<text x="1228.5" y="324" text-anchor="middle" font-size="13" style="stroke-width:0.35px">4211</text>
<text x="1440.4" y="284" text-anchor="middle" font-size="13" style="stroke-width:0.35px">4199</text>
<text x="1430.1" y="326" text-anchor="middle" font-size="13" style="stroke-width:0.35px">4202</text>
<text x="1432.6" y="340" text-anchor="middle" font-size="13" style="stroke-width:0.35px">4201</text>
<text x="1452.0" y="330" text-anchor="middle" font-size="13" style="stroke-width:0.35px">4197</text>
<text x="88.00" y="117" font-size="24.5" letter-spacing="0.4">Be_thick</text>
<text x="96.00" y="164" font-size="24.5" letter-spacing="0.4">Al_thick</text>
<text x="99.00" y="210" font-size="24.5" letter-spacing="0.4">Al_med</text>
<text x="90.00" y="256" font-size="24.5" letter-spacing="0.4">Be_med</text>
<text x="99.00" y="303" font-size="24.5" letter-spacing="0.4">Be_thin</text>
<text x="106.00" y="349" font-size="24.5" letter-spacing="0.4">C_poly</text>
<text x="102.00" y="396" font-size="24.5" letter-spacing="0.4">Ti_poly</text>
<text x="101.00" y="442" font-size="24.5" letter-spacing="0.4">Al_poly</text>
<text x="86.00" y="488" font-size="24.5" letter-spacing="0.4">Al_mesh</text>
<text x="109.00" y="535" font-size="24.5" letter-spacing="0.4">Gband</text>
<text x="128.00" y="589" font-size="24.5" letter-spacing="0.4">M1.0</text>
<text x="131.00" y="1110" font-size="24.5" letter-spacing="0.4">C1.0</text>
<text x="161.00" y="1152" font-size="24.5" letter-spacing="0.4">04:00</text>
<text x="309.00" y="1152" font-size="24.5" letter-spacing="0.4">04:10</text>
<text x="457.00" y="1152" font-size="24.5" letter-spacing="0.4">04:20</text>
<text x="605.00" y="1152" font-size="24.5" letter-spacing="0.4">04:30</text>
<text x="753.00" y="1152" font-size="24.5" letter-spacing="0.4">04:40</text>
<text x="901.00" y="1152" font-size="24.5" letter-spacing="0.4">04:50</text>
<text x="217.00" y="43" font-size="31" letter-spacing="0">Time Interval:</text>
<text x="421.00" y="43" font-size="31" letter-spacing="0">4-Sep-2025</text>
<text x="592.00" y="43" font-size="31" letter-spacing="0">04:00:00</text>
<text x="722.00" y="43" font-size="31" letter-spacing="0">to</text>
<text x="764.00" y="43" font-size="31" letter-spacing="0">4-Sep-2025</text>
<text x="935.00" y="43" font-size="31" letter-spacing="0">05:00:00</text>
<text transform="translate(101,898) rotate(-90)" font-size="24.5">GOES flux</text>
</g>
</svg>
</body></html>
